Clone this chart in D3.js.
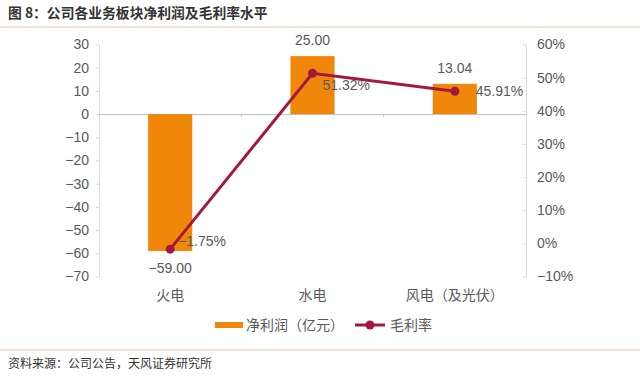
<!DOCTYPE html>
<html>
<head>
<meta charset="utf-8">
<script src="https://cdn.jsdelivr.net/npm/d3@7"></script>
<style>
  body { margin: 0; background: #fff; }
  text { font-family: "Liberation Sans", "Noto Sans CJK SC", sans-serif; }
</style>
</head>
<body>
<div id="graph"></div>
<script>
const categories = ["火电", "水电", "风电（及光伏）"];
const profit = [-59.00, 25.00, 13.04];
const margin = [-1.75, 51.32, 45.91];
const leftTicks = [30, 20, 10, 0, -10, -20, -30, -40, -50, -60, -70];
const rightTicks = [60, 50, 40, 30, 20, 10, 0, -10];

const width = 640, height = 378;
const plotLeft = 99, plotRight = 526, plotTop = 44.5, plotBottom = 276.5;
const barColor = "#F0870A", lineColor = "#A5183E", textColor = "#595959";
const cjk = "'Noto Sans CJK SC', sans-serif";

const svg = d3.select("#graph").append("svg")
    .attr("width", width)
    .attr("height", height);

// title and frame lines
svg.append("text")
    .attr("x", 8).attr("y", 18)
    .attr("font-size", 13.8).attr("font-weight", "bold")
    .style("font-family", cjk)
    .attr("fill", "#333")
    .text("图 8：公司各业务板块净利润及毛利率水平");
svg.append("line")
    .attr("x1", 0).attr("x2", width).attr("y1", 27).attr("y2", 27)
    .attr("stroke", "#e3c9a3").attr("stroke-width", 1.2);
svg.append("line")
    .attr("x1", 0).attr("x2", width).attr("y1", 350).attr("y2", 350)
    .attr("stroke", "#e3c9a3").attr("stroke-width", 1.2);
svg.append("text")
    .attr("x", 8).attr("y", 368)
    .attr("font-size", 12)
    .style("font-family", cjk)
    .attr("fill", "#333")
    .text("资料来源：公司公告，天风证券研究所");

// scales
const xScale = d3.scaleBand().domain(categories).range([plotLeft, plotRight]).padding(0);
const yLeft = d3.scaleLinear().domain([-70, 30]).range([plotBottom, plotTop]);
const yRight = d3.scaleLinear().domain([-10, 60]).range([plotBottom, plotTop]);

// left axis
const leftAxis = d3.axisLeft(yLeft).tickValues(leftTicks).tickSizeInner(3).tickSizeOuter(0).tickPadding(7)
    .tickFormat(d => d3.format("d")(d).replace("-", "−"));
const gl = svg.append("g").attr("transform", `translate(${plotLeft},0)`).call(leftAxis);
gl.select(".domain").attr("stroke", "#d9d9d9");
gl.selectAll(".tick line").attr("stroke", "#d9d9d9");
gl.selectAll(".tick text").attr("font-size", 14).attr("fill", textColor);

// right axis
const rightAxis = d3.axisRight(yRight).tickValues(rightTicks).tickSizeInner(3).tickSizeOuter(0).tickPadding(8)
    .tickFormat(d => (d + "%").replace("-", "−"));
const gr = svg.append("g").attr("transform", `translate(${plotRight},0)`).call(rightAxis);
gr.select(".domain").attr("stroke", "#d9d9d9");
gr.selectAll(".tick line").attr("stroke", "#d9d9d9").attr("x2", -3);
gr.selectAll(".tick text").attr("font-size", 14).attr("fill", textColor);

// zero line (category axis)
const xAxis = d3.axisBottom(xScale).tickSize(0).tickFormat("");
const gx = svg.append("g").attr("transform", `translate(0,${yLeft(0)})`).call(xAxis);
gx.select(".domain").attr("stroke", "#bfbfbf");
svg.selectAll("line.sep")
    .data(categories.slice(1))
    .enter().append("line")
    .attr("class", "sep")
    .attr("x1", d => xScale(d)).attr("x2", d => xScale(d))
    .attr("y1", yLeft(0)).attr("y2", yLeft(0) + 3)
    .attr("stroke", "#bfbfbf");

// category labels
svg.selectAll("text.cat")
    .data(categories)
    .enter().append("text")
    .attr("class", "cat")
    .attr("x", d => xScale(d) + xScale.bandwidth() / 2)
    .attr("y", 300)
    .attr("text-anchor", "middle")
    .attr("font-size", 14)
    .style("font-family", cjk)
    .attr("fill", textColor)
    .text(d => d);

// bars
const barW = xScale.bandwidth() * 0.31;
svg.selectAll("rect.bar")
    .data(profit)
    .enter().append("rect")
    .attr("class", "bar")
    .attr("x", (d, i) => xScale(categories[i]) + xScale.bandwidth() / 2 - barW / 2)
    .attr("y", d => yLeft(Math.max(0, d)))
    .attr("width", barW)
    .attr("height", d => Math.abs(yLeft(d) - yLeft(0)))
    .attr("fill", barColor);

svg.selectAll("text.barlabel")
    .data(profit)
    .enter().append("text")
    .attr("class", "barlabel")
    .attr("x", (d, i) => xScale(categories[i]) + xScale.bandwidth() / 2)
    .attr("y", d => d >= 0 ? yLeft(d) - 11 : yLeft(d) + 22)
    .attr("text-anchor", "middle")
    .attr("font-size", 14)
    .attr("fill", textColor)
    .text(d => d3.format(".2f")(d).replace("-", "−"));

// margin line
const line = d3.line()
    .x((d, i) => xScale(categories[i]) + xScale.bandwidth() / 2)
    .y(d => yRight(d));
svg.append("path")
    .datum(margin)
    .attr("d", line)
    .attr("fill", "none")
    .attr("stroke", lineColor)
    .attr("stroke-width", 3);
svg.selectAll("circle.pt")
    .data(margin)
    .enter().append("circle")
    .attr("class", "pt")
    .attr("cx", (d, i) => xScale(categories[i]) + xScale.bandwidth() / 2)
    .attr("cy", d => yRight(d))
    .attr("r", 4.5)
    .attr("fill", lineColor);

const labelShift = [[8, -3], [10, 17], [21, 5]];
svg.selectAll("text.ptlabel")
    .data(margin)
    .enter().append("text")
    .attr("class", "ptlabel")
    .attr("x", (d, i) => xScale(categories[i]) + xScale.bandwidth() / 2 + labelShift[i][0])
    .attr("y", (d, i) => yRight(d) + labelShift[i][1])
    .attr("font-size", 14)
    .attr("fill", textColor)
    .text(d => (d3.format(".2f")(d) + "%").replace("-", "−"));

// legend
const legend = svg.append("g").attr("transform", "translate(0,325)");
legend.append("rect")
    .attr("x", 215).attr("y", -3).attr("width", 28).attr("height", 6)
    .attr("fill", barColor);
legend.append("text")
    .attr("x", 246).attr("y", 5)
    .attr("font-size", 14)
    .style("font-family", cjk)
    .attr("fill", textColor)
    .text("净利润（亿元）");
legend.append("line")
    .attr("x1", 355).attr("x2", 385).attr("y1", 0).attr("y2", 0)
    .attr("stroke", lineColor).attr("stroke-width", 3);
legend.append("circle")
    .attr("cx", 370).attr("cy", 0).attr("r", 4.5)
    .attr("fill", lineColor);
legend.append("text")
    .attr("x", 390).attr("y", 5)
    .attr("font-size", 14)
    .style("font-family", cjk)
    .attr("fill", textColor)
    .text("毛利率");
</script>
</body>
</html>
